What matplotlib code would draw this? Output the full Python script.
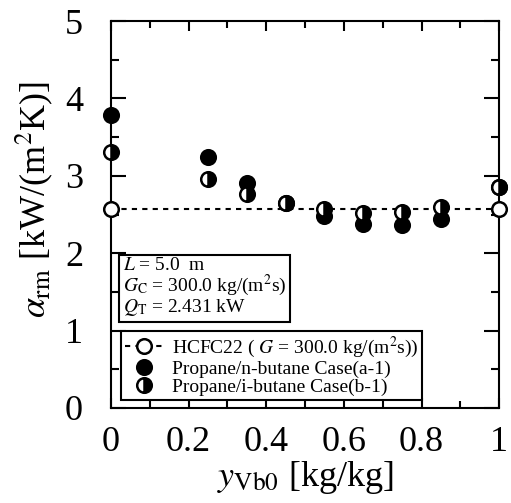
import matplotlib
matplotlib.use("Agg")
import matplotlib.pyplot as plt
from matplotlib.ticker import MultipleLocator

plt.rcParams['font.family'] = ['Liberation Serif', 'DejaVu Serif']
plt.rcParams['mathtext.fontset'] = 'stix'

# HCFC22 reference (constant)
x_hcfc = [0.0, 1.0]
y_hcfc = [2.57, 2.57]

# Propane/n-butane Case(a-1)
x_nbut = [0.0, 0.25, 0.35, 0.45, 0.55, 0.65, 0.75, 0.85, 1.0]
y_nbut = [3.79, 3.24, 2.91, 2.65, 2.48, 2.38, 2.37, 2.44, 2.86]

# Propane/i-butane Case(b-1)
x_ibut = [0.0, 0.25, 0.35, 0.45, 0.55, 0.65, 0.75, 0.85, 1.0]
y_ibut = [3.31, 2.96, 2.76, 2.65, 2.57, 2.52, 2.53, 2.60, 2.85]

fig = plt.figure(figsize=(5.11, 5.03), dpi=100)
ax = fig.add_axes([0.217, 0.189, 0.76, 0.769])

ax.plot(x_hcfc, y_hcfc, linestyle=(0, (2.5, 2.5)), color='black', linewidth=1.5,
        marker='o', markersize=10.5, markerfacecolor='white', markeredgecolor='black',
        markeredgewidth=1.8, label=r'HCFC22 ( $G$ = 300.0 kg/(m$^2$s))', zorder=3, clip_on=False)
ax.plot(x_nbut, y_nbut, linestyle='none', marker='o', markersize=10.5, color='black',
        markeredgewidth=1.8, label='Propane/n-butane Case(a-1)', zorder=4, clip_on=False)
ax.plot(x_ibut, y_ibut, linestyle='none', marker='o', markersize=10.5, fillstyle='right',
        markerfacecolor='black', markerfacecoloralt='white', markeredgecolor='black',
        markeredgewidth=1.8, label='Propane/i-butane Case(b-1)', zorder=5, clip_on=False)

ax.set_xlim(0, 1)
ax.set_ylim(0, 5)
ax.xaxis.set_major_locator(MultipleLocator(0.2))
ax.xaxis.set_minor_locator(MultipleLocator(0.1))
ax.yaxis.set_major_locator(MultipleLocator(1))
ax.yaxis.set_minor_locator(MultipleLocator(0.5))
ax.set_xticks([0, 0.2, 0.4, 0.6, 0.8, 1.0])
ax.set_xticklabels(['0', '0.2', '0.4', '0.6', '0.8', '1'])

ax.tick_params(axis='both', which='both', direction='in', top=True, right=True,
               width=1.5, labelsize=26)
ax.tick_params(axis='y', which='major', length=11, pad=20)
ax.tick_params(axis='y', which='minor', length=6)
ax.tick_params(axis='x', which='major', length=7, pad=13)
ax.tick_params(axis='x', which='minor', length=5)
for sp in ax.spines.values():
    sp.set_linewidth(1.5)

ax.set_ylabel(r'$\alpha_{\rm rm}$ [kW/(m$^2$K)]', fontsize=26)
ax.yaxis.set_label_coords(-0.145, 0.54)
ax.set_xlabel(r'$y_{\rm Vb0}$ [kg/kg]', fontsize=26, labelpad=0)

ax.text(0.03, 0.232,
        "$L$ = 5.0  m\n$G_{\\rm C}$ = 300.0 kg/(m$^2$s)\n$Q_{\\rm T}$ = 2.431 kW",
        transform=ax.transAxes, fontsize=14, ha='left', va='bottom', linespacing=0.95,
        bbox=dict(boxstyle='square,pad=0.2', facecolor='white', edgecolor='black',
                  linewidth=1.5), zorder=6)

leg = ax.legend(loc='lower left', bbox_to_anchor=(0.026, 0.02), fontsize=14,
                frameon=True, fancybox=False, edgecolor='black', framealpha=1,
                handlelength=2.0, handletextpad=0.4, labelspacing=0.02,
                borderpad=0.2, borderaxespad=0)
leg.get_frame().set_linewidth(1.5)
leg.set_zorder(6)

fig.savefig('out.png', dpi=100)
